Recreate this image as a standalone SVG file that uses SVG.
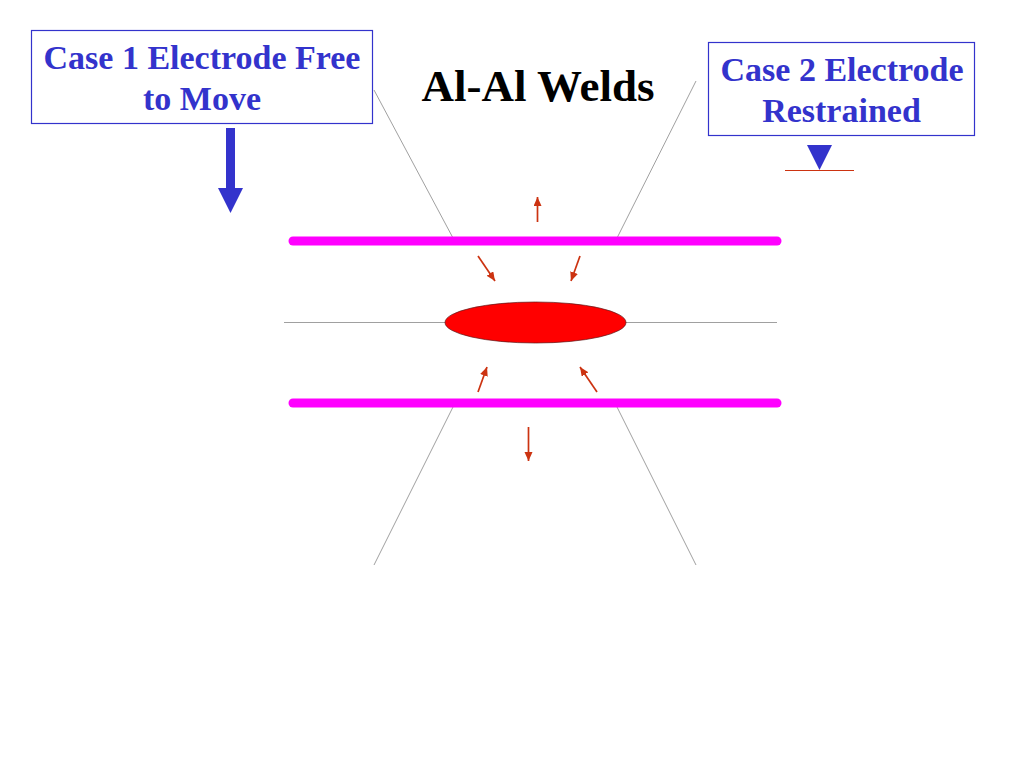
<svg xmlns="http://www.w3.org/2000/svg" width="1024" height="768" viewBox="0 0 1024 768">
<style>
.box{fill:#fff;stroke:#3333cc;stroke-width:1.2}
.lbl{font-family:"Liberation Serif",serif;font-weight:700;font-size:34px;fill:#3333cc;text-anchor:middle}
.thin{stroke:#777;stroke-width:.7;fill:none}
.bar{stroke:#ff00ff;stroke-width:9;stroke-linecap:round;fill:none}
.ar{stroke:#cc3311;stroke-width:1.7;fill:none;marker-end:url(#h)}
</style>
<defs>
<marker id="h" markerUnits="userSpaceOnUse" markerWidth="11" markerHeight="10" refX="9" refY="4" orient="auto"><path d="M0 0L9 4L0 8Z" fill="#cc3311"/></marker>
</defs>
<rect width="1024" height="768" fill="#fff"/>
<g id="connectors">
<path class="thin" d="M374 90L453 238M696 81L617 238M453 407L374 565M617 407L696 565M284 322.500H445M626 322.500H777"/>
<path class="ar" d="M537.500 222V197"/>
<path class="ar" d="M478 256L495 281"/>
<path class="ar" d="M580 256L571 281"/>
<path class="ar" d="M478 392L487 367"/>
<path class="ar" d="M597 392L580 367"/>
<path class="ar" d="M528.500 427V461"/>
</g>
<g id="electrode-top"><path class="bar" d="M293 241H777"/></g>
<g id="electrode-bottom"><path class="bar" d="M293 403H777"/></g>
<g id="nugget"><ellipse cx="535.500" cy="322.500" rx="90.500" ry="20.500" fill="#ff0000" stroke="#5a1a1a" stroke-width=".7"/></g>
<g id="title"><text x="538" y="101" font-family="Liberation Serif, serif" font-weight="700" font-size="45" text-anchor="middle" fill="#000">Al-Al Welds</text></g>
<g id="case1">
<rect class="box" x="31.500" y="30.500" width="341" height="93"/>
<text class="lbl" x="202" y="69">Case 1 Electrode Free</text>
<text class="lbl" x="202" y="110">to Move</text>
</g>
<g id="case1-arrow"><path d="M226 128H235V188H243L230.500 213L218 188H226Z" fill="#3333cc"/></g>
<g id="case2">
<rect class="box" x="708.500" y="42.500" width="266" height="93"/>
<text class="lbl" x="842" y="81">Case 2 Electrode</text>
<text class="lbl" x="841.500" y="122">Restrained</text>
</g>
<g id="case2-support">
<path d="M807 145H832L819.500 170Z" fill="#3333cc"/>
<path d="M785 170.500H854" stroke="#cc3311" stroke-width="1" fill="none"/>
</g>
</svg>
